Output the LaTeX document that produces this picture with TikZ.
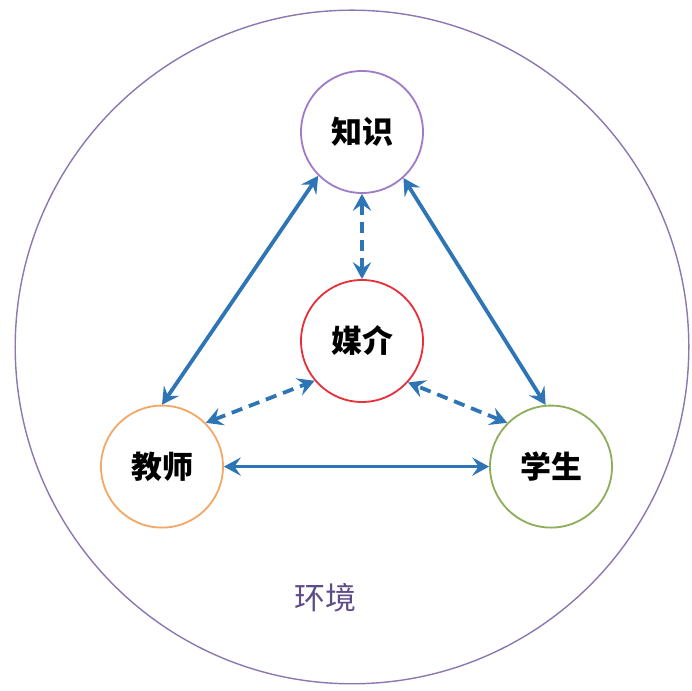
\documentclass[tikz,border=0pt]{standalone}
\usepackage{fontspec}
\newfontfamily\cjk{Noto Sans CJK SC}
\usetikzlibrary{arrows.meta}
\definecolor{arrowblue}{HTML}{2E75B6}
\definecolor{envpurple}{HTML}{8C78B0}
\definecolor{knowpurple}{HTML}{A07CC8}
\definecolor{mediared}{HTML}{E8303A}
\definecolor{teachorange}{HTML}{F4A868}
\definecolor{studgreen}{HTML}{8FAE5C}
\definecolor{envtext}{HTML}{5E4C8A}
\begin{document}
\begin{tikzpicture}[
  role/.style={circle,draw,fill=white,minimum size=3.05cm,inner sep=0pt,
    line width=1.3pt,font=\cjk\bfseries\fontsize{22}{26}\selectfont},
  link/.style={arrowblue,line width=2.7pt,
    {Stealth[length=12pt,width=13pt,inset=4.5pt]}-{Stealth[length=12pt,width=13pt,inset=4.5pt]}},
  linkd/.style={link,dash pattern=on 8pt off 5pt}]
  \useasboundingbox (0,0) rectangle (17.3,17.275);
  \draw[envpurple,line width=1pt] (8.8,8.6) circle (8.42);

  \node[role,draw=knowpurple] (know) at (9.05, 13.975) {知识};
  \node[role,draw=mediared] (media) at (9.05, 8.75) {媒介};
  \node[role,draw=teachorange] (teacher) at (4.05, 5.61) {教师};
  \node[role,draw=studgreen] (student) at (13.775, 5.61) {学生};
  \node[font=\cjk\fontsize{22}{26}\selectfont,text=envtext] (env) at (8.125, 2.325) {环境};

  \draw[link] (know.225) -- (teacher.90);
  \draw[link] (know.312) -- (student.95);
  \draw[link] (teacher.east) -- (student.west);
  \draw[linkd] (know.south) -- (media.north);
  \draw[linkd] (teacher.45) -- (media.220);
  \draw[linkd] (student.135) -- (media.318);
\end{tikzpicture}
\end{document}
